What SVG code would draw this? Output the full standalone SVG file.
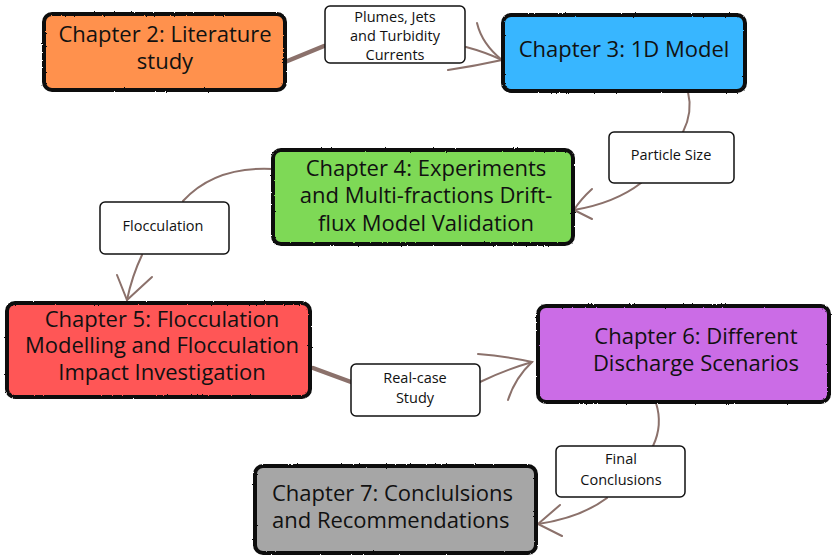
<svg xmlns="http://www.w3.org/2000/svg" width="832" height="555" viewBox="0 0 832 555">
<defs>
<filter id="rough" x="-5%" y="-5%" width="110%" height="110%">
<feTurbulence type="fractalNoise" baseFrequency="0.9" numOctaves="2" seed="3" result="n"/>
<feDisplacementMap in="SourceGraphic" in2="n" scale="2" xChannelSelector="R" yChannelSelector="G"/>
</filter>
</defs>
<style>
.node{stroke:#111;stroke-width:4;stroke-linejoin:round}
.nt{font-family:"Open Sans","Noto Sans",sans-serif;font-size:22px;fill:#111;text-anchor:middle}
.lab{fill:#fff;stroke:#111;stroke-width:1.5}
.lt{font-family:"Open Sans","Noto Sans",sans-serif;font-size:14.5px;fill:#111;text-anchor:middle}
.con{fill:none;stroke:#8b716b;stroke-width:2;stroke-linecap:round}
.thick{stroke-width:4.5}
</style>
<rect width="832" height="555" fill="#fff"/>
<g id="connectors">
<path class="con thick" d="M285,62 L324,46"/>
<path class="con" d="M466,47 Q485,52 502,60"/>
<path class="con" d="M477,23 Q482,44 502,60 M502,60 Q475,66 448,70"/>
<path class="con" d="M688,92 Q693,112 683,132"/>
<path class="con" d="M641,183 Q615,203 574,210"/>
<path class="con" d="M592,189 Q580,200 574,210 L592,219"/>
<path class="con" d="M273,169 Q215,166 183,201"/>
<path class="con" d="M142,255 Q132,276 127,300"/>
<path class="con" d="M117,275 L127,300 L152,277"/>
<path class="con thick" d="M313,368 L351,382"/>
<path class="con" d="M480,382 Q505,370 532,362"/>
<path class="con" d="M478,354 Q505,356 532,362 Q515,378 508,400"/>
<path class="con" d="M656,403 Q663,425 653,446"/>
<path class="con" d="M607,498 Q580,518 538,524"/>
<path class="con" d="M560,505 L538,524 L562,536"/>
</g>
<g id="ch2">
<rect class="node" x="44" y="14" width="241" height="76" rx="8" fill="#ff914d" filter="url(#rough)"/>
<text class="nt" x="165" y="42">Chapter 2: Literature</text>
<text class="nt" x="165" y="69">study</text>
</g>
<g id="lab1">
<rect class="lab" x="325" y="6" width="140" height="57" rx="5"/>
<text class="lt" x="395" y="22">Plumes, Jets</text>
<text class="lt" x="395" y="41">and Turbidity</text>
<text class="lt" x="395" y="60">Currents</text>
</g>
<g id="ch3">
<rect class="node" x="503" y="15" width="242" height="76" rx="8" fill="#38b6ff" filter="url(#rough)"/>
<text class="nt" x="624" y="57">Chapter 3: 1D Model</text>
</g>
<g id="lab2">
<rect class="lab" x="609" y="132" width="125" height="51" rx="5"/>
<text class="lt" x="671" y="160">Particle Size</text>
</g>
<g id="ch4">
<rect class="node" x="273" y="150" width="300" height="94" rx="8" fill="#7ed957" filter="url(#rough)"/>
<text class="nt" x="426" y="176">Chapter 4: Experiments</text>
<text class="nt" x="426" y="203">and Multi-fractions Drift-</text>
<text class="nt" x="426" y="231">flux Model Validation</text>
</g>
<g id="lab3">
<rect class="lab" x="100" y="202" width="129" height="52" rx="5"/>
<text class="lt" x="163" y="231">Flocculation</text>
</g>
<g id="ch5">
<rect class="node" x="7" y="303" width="303" height="94" rx="8" fill="#ff5757" filter="url(#rough)"/>
<text class="nt" x="162" y="327">Chapter 5: Flocculation</text>
<text class="nt" x="162" y="353">Modelling and Flocculation</text>
<text class="nt" x="162" y="380">Impact Investigation</text>
</g>
<g id="lab4">
<rect class="lab" x="351" y="364" width="129" height="52" rx="5"/>
<text class="lt" x="415" y="383">Real-case</text>
<text class="lt" x="415" y="403">Study</text>
</g>
<g id="ch6">
<rect class="node" x="538" y="306" width="291" height="96" rx="8" fill="#cb6ce6" filter="url(#rough)"/>
<text class="nt" x="696" y="344">Chapter 6: Different</text>
<text class="nt" x="696" y="371">Discharge Scenarios</text>
</g>
<g id="lab5">
<rect class="lab" x="556" y="446" width="129" height="51" rx="5"/>
<text class="lt" x="621" y="464">Final</text>
<text class="lt" x="621" y="485">Conclusions</text>
</g>
<g id="ch7">
<rect class="node" x="255" y="466" width="281" height="87" rx="8" fill="#a6a6a6" filter="url(#rough)"/>
<text class="nt" x="272" y="501" style="text-anchor:start">Chapter 7: Conclulsions</text>
<text class="nt" x="272" y="528" style="text-anchor:start">and Recommendations</text>
</g>
</svg>
